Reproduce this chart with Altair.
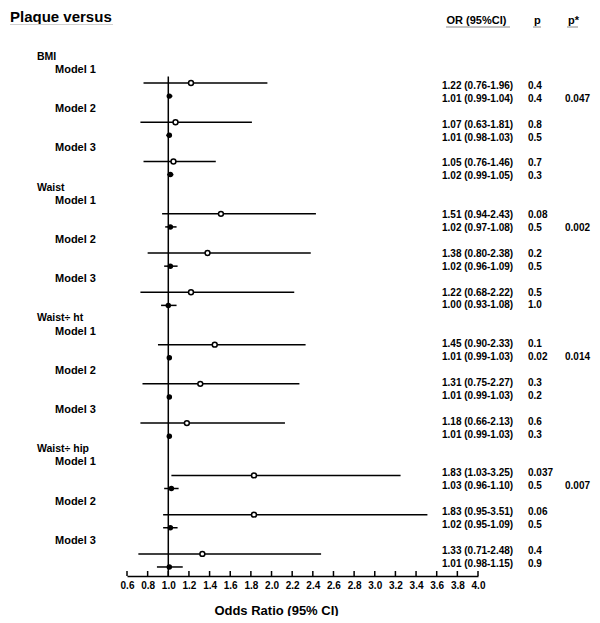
import altair as alt
import pandas as pd

groups = ["BMI", "Waist", "Waist\u00f7 ht", "Waist\u00f7 hip"]
models = ["Model 1", "Model 2", "Model 3"]

# first line of each model (open circles)
or_a = [1.22, 1.07, 1.05, 1.51, 1.38, 1.22, 1.45, 1.31, 1.18, 1.83, 1.83, 1.33]
lo_a = [0.76, 0.73, 0.76, 0.94, 0.80, 0.73, 0.90, 0.75, 0.73, 1.03, 0.95, 0.71]
hi_a = [1.96, 1.81, 1.46, 2.43, 2.38, 2.22, 2.33, 2.27, 2.13, 3.25, 3.51, 2.48]
txt_a = ["1.22 (0.76-1.96)", "1.07 (0.63-1.81)", "1.05 (0.76-1.46)",
         "1.51 (0.94-2.43)", "1.38 (0.80-2.38)", "1.22 (0.68-2.22)",
         "1.45 (0.90-2.33)", "1.31 (0.75-2.27)", "1.18 (0.66-2.13)",
         "1.83 (1.03-3.25)", "1.83 (0.95-3.51)", "1.33 (0.71-2.48)"]
p_a = ["0.4", "0.8", "0.7", "0.08", "0.2", "0.5", "0.1", "0.3", "0.6", "0.037", "0.06", "0.4"]

# second line of each model (filled dots)
or_b = [1.01, 1.01, 1.02, 1.02, 1.02, 1.00, 1.01, 1.01, 1.01, 1.03, 1.02, 1.01]
lo_b = [0.99, 0.98, 0.99, 0.97, 0.96, 0.93, 0.99, 0.99, 0.99, 0.96, 0.95, 0.89]
hi_b = [1.04, 1.03, 1.05, 1.08, 1.09, 1.08, 1.03, 1.03, 1.03, 1.10, 1.09, 1.14]
txt_b = ["1.01 (0.99-1.04)", "1.01 (0.98-1.03)", "1.02 (0.99-1.05)",
         "1.02 (0.97-1.08)", "1.02 (0.96-1.09)", "1.00 (0.93-1.08)",
         "1.01 (0.99-1.03)", "1.01 (0.99-1.03)", "1.01 (0.99-1.03)",
         "1.03 (0.96-1.10)", "1.02 (0.95-1.09)", "1.01 (0.98-1.15)"]
p_b = ["0.4", "0.5", "0.3", "0.5", "0.5", "1.0", "0.02", "0.2", "0.3", "0.5", "0.5", "0.9"]
p_star = ["0.047", "0.002", "0.014", "0.007"]

x_ticks = [0.6, 0.8, 1.0, 1.2, 1.4, 1.6, 1.8, 2.0, 2.2, 2.4, 2.6, 2.8,
           3.0, 3.2, 3.4, 3.6, 3.8, 4.0]

FONT = "Liberation Sans"
W, H = 351, 499.5

pts, labs, table = [], [], []
for g, gname in enumerate(groups):
    labs.append({"row": g * 10 - 2, "label": gname, "kind": "group"})
    for m, mname in enumerate(models):
        i = g * 3 + m
        base = g * 10 + m * 3
        labs.append({"row": base - 1, "label": mname, "kind": "model"})
        pts.append({"row": base, "or": or_a[i], "lo": lo_a[i], "hi": hi_a[i], "kind": "a"})
        pts.append({"row": base + 1, "or": or_b[i], "lo": lo_b[i], "hi": hi_b[i], "kind": "b"})
        table.append({"row": base, "ortxt": txt_a[i], "p": p_a[i], "ps": ""})
        table.append({"row": base + 1, "ortxt": txt_b[i], "p": p_b[i],
                      "ps": p_star[g] if m == 0 else ""})

pts = pd.DataFrame(pts)
labs = pd.DataFrame(labs)
table = pd.DataFrame(table)
ticks = pd.DataFrame({"x": x_ticks})
ref = pd.DataFrame({"x": [1.0]})

xs = alt.Scale(domain=[0.6, 4.0], nice=False, zero=False)
ys = alt.Scale(domain=[-0.5, 37.69], reverse=True, nice=False, zero=False)
ys_t = alt.Scale(domain=[-0.736, 37.96], reverse=True, nice=False, zero=False)

xaxis = alt.Axis(values=x_ticks, format=".1f", ticks=False, labelPadding=4,
                 labelOverlap=False, labelFlush=False, labelBound=False,
                 domainColor="black", domainWidth=1.5, labelColor="black",
                 labelFont=FONT, labelFontSize=10, labelFontWeight="bold",
                 titleFont=FONT, titleFontSize=13, titleFontWeight="bold",
                 titleColor="black", titleX=149, titleY=34, titleAlign="center",
                 titleBaseline="middle", grid=False)
TITLE = "Odds Ratio (95% CI)"


def X(field):
    return alt.X(field, type="quantitative", scale=xs, axis=xaxis, title=TITLE)


def Y(field="row"):
    return alt.Y(field, type="quantitative", scale=ys, axis=None)


refline = alt.Chart(ref).mark_rule(color="black", strokeWidth=1.5).encode(
    x=X("x"), y=alt.value(0), y2=alt.value(H))

axticks = alt.Chart(ticks).mark_rule(color="black", strokeWidth=1.5).encode(
    x=X("x"), y=alt.value(H), y2=alt.value(H - 5))

ci = alt.Chart(pts).mark_rule(color="black", strokeWidth=1.5).encode(
    x=X("lo"), x2="hi", y=Y())

open_pts = alt.Chart(pts).transform_filter("datum.kind == 'a'").mark_circle(
    fill="white", stroke="black", strokeWidth=1.5, size=24, opacity=1).encode(
    x=X("or"), y=Y())

fill_pts = alt.Chart(pts).transform_filter("datum.kind == 'b'").mark_circle(
    color="black", size=30, opacity=1).encode(x=X("or"), y=Y())

glabs = alt.Chart(labs).transform_filter("datum.kind == 'group'").mark_text(
    align="left", baseline="middle", font=FONT, fontSize=10.5, fontWeight="bold",
    color="black").encode(x=alt.value(-90), y=Y(), text="label:N")

mlabs = alt.Chart(labs).transform_filter("datum.kind == 'model'").mark_text(
    align="left", baseline="middle", font=FONT, fontSize=11, fontWeight="bold",
    color="black").encode(x=alt.value(-72), y=Y(), text="label:N")

main = alt.layer(refline, axticks, ci, open_pts, fill_pts, glabs, mlabs)


def TY():
    return alt.Y("row", type="quantitative", scale=ys_t, axis=None)


tkw = dict(align="left", baseline="middle", font=FONT, fontSize=10,
           fontWeight="bold", color="black")
t_or = alt.Chart(table).mark_text(**tkw).encode(x=alt.value(315), y=TY(), text="ortxt:N")
t_p = alt.Chart(table).mark_text(**tkw).encode(x=alt.value(401), y=TY(), text="p:N")
t_ps = alt.Chart(table).mark_text(**tkw).encode(x=alt.value(438), y=TY(), text="ps:N")
tables = alt.layer(t_or, t_p, t_ps)

one = pd.DataFrame({"t": ["Plaque versus"]})
hdr_or = pd.DataFrame({"t": ["OR (95%CI)"]})
hdr_p = pd.DataFrame({"t": ["p"]})
hdr_ps = pd.DataFrame({"t": ["p*"]})

title = alt.Chart(one).mark_text(align="left", baseline="middle", font=FONT,
                                 fontSize=15, fontWeight="bold", color="black").encode(
    x=alt.value(-117), y=alt.value(-59.5), text="t:N")
title_ul = alt.Chart(one).mark_rule(color="#d0d0d0", strokeWidth=1).encode(
    x=alt.value(-117), x2=alt.value(-14), y=alt.value(-52))

hkw = dict(align="left", baseline="middle", font=FONT, fontSize=11,
           fontWeight="bold", color="black")
h1 = alt.Chart(hdr_or).mark_text(**hkw).encode(x=alt.value(319.5), y=alt.value(-55.5), text="t:N")
h2 = alt.Chart(hdr_p).mark_text(**hkw).encode(x=alt.value(407), y=alt.value(-55.5), text="t:N")
h3 = alt.Chart(hdr_ps).mark_text(**hkw).encode(x=alt.value(441), y=alt.value(-55.5), text="t:N")
u1 = alt.Chart(hdr_or).mark_rule(color="#888888", strokeWidth=1).encode(
    x=alt.value(319), x2=alt.value(383), y=alt.value(-49.5))
u2 = alt.Chart(hdr_p).mark_rule(color="#888888", strokeWidth=1).encode(
    x=alt.value(406), x2=alt.value(414), y=alt.value(-49.5))
u3 = alt.Chart(hdr_ps).mark_rule(color="#888888", strokeWidth=1).encode(
    x=alt.value(440), x2=alt.value(451), y=alt.value(-49.5))
headers = alt.layer(title, title_ul, h1, h2, h3, u1, u2, u3)

chart = alt.layer(main, tables, headers).resolve_scale(y="independent").properties(
    width=W, height=H,
    padding={"left": 119, "top": 68.5, "right": 114, "bottom": 40},
    autosize=alt.AutoSizeParams(type="none"),
    background="white",
).configure_view(stroke=None)

chart.save("out.html", embed_options={"renderer": "svg", "actions": False})
